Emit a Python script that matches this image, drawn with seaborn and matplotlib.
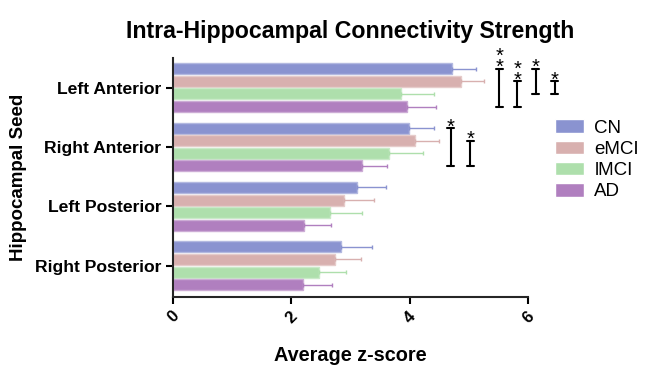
import pandas as pd
import matplotlib.pyplot as plt
import matplotlib.colors as mcolors
import seaborn as sns

# data
seeds = ['Left Anterior', 'Right Anterior', 'Left Posterior', 'Right Posterior']
groups = ['CN', 'eMCI', 'lMCI', 'AD']
colors = ['#8a93d0', '#d8b0af', '#aedfac', '#b07fbf']

cn = [4.71, 3.99, 3.11, 2.83]
emci = [4.86, 4.08, 2.88, 2.74]
lmci = [3.85, 3.65, 2.65, 2.47]
ad = [3.95, 3.19, 2.21, 2.20]

cn_err = [0.41, 0.42, 0.49, 0.53]
emci_err = [0.40, 0.42, 0.52, 0.43]
lmci_err = [0.56, 0.58, 0.55, 0.46]
ad_err = [0.50, 0.42, 0.46, 0.49]

# significance brackets
sig_seed = ['Left Anterior'] * 4 + ['Right Anterior'] * 2
sig_from = ['CN', 'eMCI', 'CN', 'eMCI', 'CN', 'eMCI']
sig_to = ['AD', 'AD', 'lMCI', 'lMCI', 'AD', 'AD']
sig_x = [5.51, 5.82, 6.13, 6.45, 4.69, 5.02]
sig_label = ['**', '**', '*', '*', '*', '*']

values = [cn, emci, lmci, ad]
errors = [cn_err, emci_err, lmci_err, ad_err]

Data = pd.DataFrame({
    'seed': seeds * len(groups),
    'group': [g for g in groups for _ in seeds],
    'value': [v for vals in values for v in vals],
})

sns.set_style('ticks')
plt.rcParams['font.family'] = ['Liberation Sans', 'DejaVu Sans']
plt.rcParams['text.color'] = 'black'
plt.rcParams['axes.labelcolor'] = 'black'
plt.rcParams['xtick.color'] = 'black'
plt.rcParams['ytick.color'] = 'black'

fig = plt.figure(figsize=(6.46, 3.69), dpi=100)
ax = fig.add_axes([0.268, 0.196, 0.5495, 0.647])

sns.barplot(data=Data, x='value', y='seed', hue='group', orient='h',
            order=seeds, hue_order=groups, palette=colors, saturation=1,
            width=0.85, gap=0.12, errorbar=None, linewidth=1, ax=ax)

# lighter outline + one-sided error bars
bar_y = {}
for container, grp, col, errs in zip(ax.containers, groups, colors, errors):
    light = mcolors.to_rgba(col)
    light = tuple(c + (1 - c) * 0.35 for c in light[:3]) + (1,)
    ys, ws = [], []
    for bar, seed in zip(container, seeds):
        bar.set_edgecolor(light)
        y = bar.get_y() + bar.get_height() / 2
        bar_y[(seed, grp)] = y
        ys.append(y)
        ws.append(bar.get_width())
    ax.errorbar(ws, ys, xerr=[[0] * len(errs), errs], fmt='none',
                ecolor=col, elinewidth=1, capsize=1.5, capthick=1)

# brackets
for seed, g1, g2, x, lab in zip(sig_seed, sig_from, sig_to, sig_x, sig_label):
    y1 = bar_y[(seed, g1)]
    y2 = bar_y[(seed, g2)]
    ax.plot([x, x], [y1, y2], color='black', lw=1.5, clip_on=False)
    for yy in (y1, y2):
        ax.plot([x - 0.06, x + 0.06], [yy, yy], color='black', lw=1.5, clip_on=False)
    ax.annotate('\n'.join(lab), xy=(x, min(y1, y2)), xytext=(0, -6),
                textcoords='offset points', ha='center', va='bottom',
                fontsize=14.5, linespacing=0.45, annotation_clip=False)

ax.set_xlim(0, 6)
ax.set_ylim(3.52, -0.5)
ax.set_xticks([0, 2, 4, 6])
ax.set_xticklabels(['0', '2', '4', '6'], rotation=45, ha='center',
                   fontsize=12, fontweight='bold')
for lbl in ax.get_yticklabels():
    lbl.set_fontsize(12.6)
    lbl.set_fontweight('bold')

ax.set_xlabel('Average z-score', fontsize=14.3, fontweight='bold', labelpad=15)
ax.set_ylabel('Hippocampal Seed', fontsize=13.5, fontweight='bold', labelpad=6)
ax.set_title('Intra-Hippocampal Connectivity Strength', fontsize=16.7,
             fontweight='bold', pad=14)

sns.despine(ax=ax)
ax.spines['left'].set_linewidth(1.5)
ax.spines['bottom'].set_linewidth(1.5)
ax.tick_params(axis='both', width=1.5, length=5, color='black')

handles, labels = ax.get_legend_handles_labels()
ax.legend(handles, groups, loc='center left', bbox_to_anchor=(1.076, 0.573),
          frameon=False, fontsize=13.5, handlelength=1.55, handleheight=0.75,
          labelspacing=0.2, borderpad=0, borderaxespad=0, handletextpad=0.55)

fig.savefig('out.png', dpi=100)
